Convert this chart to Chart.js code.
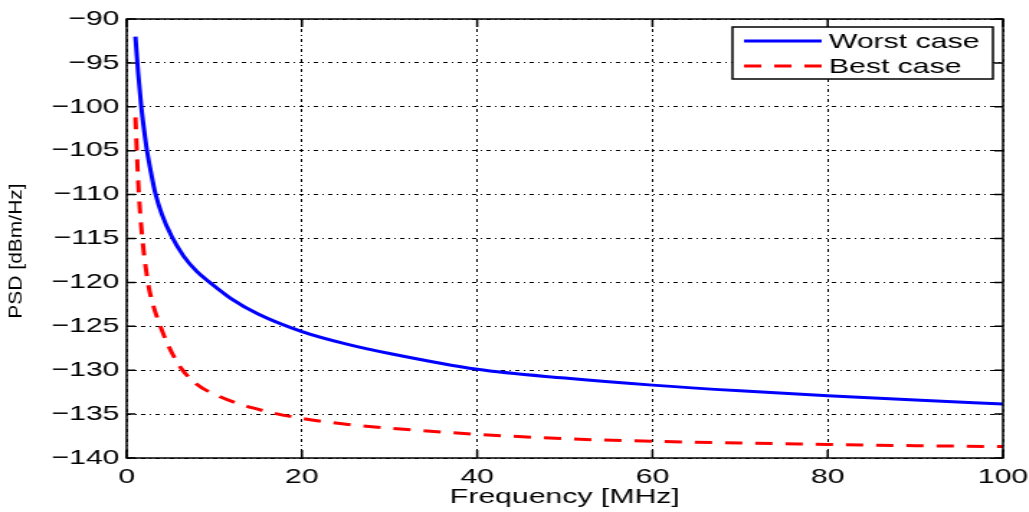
<!DOCTYPE html>
<html>
<head>
<meta charset="utf-8">
<script src="https://cdn.jsdelivr.net/npm/chart.js@4"></script>
<style>
  body { margin: 0; overflow: hidden; background: #fff; }
  #wrap { width: 715px; height: 512px; transform: scaleX(1.439); transform-origin: 0 0; }
</style>
</head>
<body>
<div id="wrap"><canvas id="psdChart" width="715" height="512"></canvas></div>
<script>
// values
const freqWorst = [1, 1.3, 1.67, 2, 2.32, 2.8, 3.31, 4, 5.1, 6.5, 8, 9.5, 12, 15, 20, 25, 30, 40, 50, 60, 70, 80, 90, 100];
const psdWorst = [-92, -96, -100, -102.7, -105, -107.6, -110, -112.2, -114.7, -117, -118.75, -120, -121.9, -123.6, -125.6, -127.0, -128.1, -129.9, -130.9, -131.7, -132.35, -132.9, -133.4, -133.85];

const freqBest = [1, 1.18, 1.4, 1.79, 2.43, 3, 3.85, 5, 6.24, 8, 10.6, 14.4, 20, 25, 30, 40, 50, 60, 70, 80, 90, 100];
const psdBest = [-101.2, -105.5, -110, -115, -120, -122.5, -125, -127.7, -129.8, -131.6, -133, -134.3, -135.5, -136.15, -136.6, -137.3, -137.8, -138.1, -138.3, -138.45, -138.6, -138.7];

const seriesNames = ["Worst case", "Best case"];
const yTitle = "PSD [dBm/Hz]";

function toPoints(xs, ys) {
     return xs.map((x, i) => ({ x: x, y: ys[i] }));
}

const FONT = "'Liberation Sans', Arial, Helvetica, sans-serif";

// box, inward ticks, y title and legend like the matlab figure
const matlabBox = {
     id: 'matlabBox',
     afterDraw(chart) {
          const ctx = chart.ctx;
          const a = chart.chartArea;
          const xs = chart.scales.x, ys = chart.scales.y;
          ctx.save();
          ctx.strokeStyle = '#000';
          ctx.lineWidth = 1.5;
          ctx.setLineDash([]);
          ctx.strokeRect(a.left, a.top, a.right - a.left, a.bottom - a.top);

          ctx.beginPath();
          xs.ticks.forEach(t => {
               const px = xs.getPixelForValue(t.value);
               ctx.moveTo(px, a.bottom); ctx.lineTo(px, a.bottom - 8);
               ctx.moveTo(px, a.top); ctx.lineTo(px, a.top + 8);
          });
          ys.ticks.forEach(t => {
               const py = ys.getPixelForValue(t.value);
               ctx.moveTo(a.left, py); ctx.lineTo(a.left + 6, py);
               ctx.moveTo(a.right, py); ctx.lineTo(a.right - 6, py);
          });
          ctx.stroke();

          // y title, thin like the original
          ctx.save();
          ctx.translate(11.5, 251);
          ctx.rotate(-Math.PI / 2);
          ctx.scale(1, 0.6);
          ctx.font = '21px ' + FONT;
          ctx.fillStyle = '#000';
          ctx.textAlign = 'center';
          ctx.textBaseline = 'middle';
          ctx.fillText(yTitle, 0, 0);
          ctx.restore();

          // legend
          const bx = 509, by = 27, bw = 181, bh = 52;
          ctx.fillStyle = '#fff';
          ctx.fillRect(bx, by, bw, bh);
          ctx.lineWidth = 1.5;
          ctx.strokeRect(bx, by, bw, bh);
          ctx.font = '21px ' + FONT;
          ctx.textBaseline = 'middle';
          chart.data.datasets.forEach((ds, i) => {
               const y = by + 14 + i * 25;
               ctx.strokeStyle = ds.borderColor;
               ctx.lineWidth = ds.borderWidth;
               ctx.setLineDash(ds.borderDash || []);
               ctx.beginPath();
               ctx.moveTo(517, y); ctx.lineTo(571, y);
               ctx.stroke();
               ctx.fillStyle = '#000';
               ctx.fillText(ds.label, 576, y + 1);
          });
          ctx.restore();
     }
};

const ctx = document.getElementById('psdChart').getContext('2d');
window.psdChart = new Chart(ctx, {
     type: 'line',
     data: {
          datasets: [{
               label: seriesNames[0],
               data: toPoints(freqWorst, psdWorst),
               borderColor: '#0000ff',
               borderWidth: 3,
               pointRadius: 0,
               cubicInterpolationMode: 'monotone',
               fill: false
          }, {
               label: seriesNames[1],
               data: toPoints(freqBest, psdBest),
               borderColor: '#ff0000',
               borderWidth: 3,
               borderDash: [12, 9],
               pointRadius: 0,
               cubicInterpolationMode: 'monotone',
               fill: false
          }]
     },
     options: {
          responsive: false,
          animation: false,
          layout: { padding: { top: 19, right: 18, left: 0, bottom: 0 } },
          plugins: {
               legend: { display: false },
               tooltip: { enabled: false }
          },
          scales: {
               x: {
                    type: 'linear',
                    min: 0,
                    max: 100,
                    ticks: { stepSize: 20, color: '#000', padding: 7, maxRotation: 0, font: { family: FONT, size: 21 } },
                    grid: { color: '#000', lineWidth: 1, drawTicks: false },
                    border: { display: false, dash: [3, 3, 1, 3] },
                    title: { display: true, text: 'Frequency [MHz]', color: '#000', padding: { top: 0, bottom: 2 }, font: { family: FONT, size: 21 } },
                    afterFit: function (scale) {
                         scale.height = 54;
                         scale.paddingLeft = 0;
                         scale.paddingRight = 0;
                    }
               },
               y: {
                    min: -140,
                    max: -90,
                    ticks: {
                         stepSize: 5,
                         color: '#000',
                         padding: 5,
                         font: { family: FONT, size: 21 },
                         callback: function (v) { return String(v).replace('-', '\u2212'); }
                    },
                    grid: { color: '#000', lineWidth: 1, drawTicks: false },
                    border: { display: false, dash: [3, 3, 1, 3] },
                    title: { display: false },
                    afterFit: function (scale) {
                         scale.width = 88;
                         scale.paddingTop = 0;
                         scale.paddingBottom = 0;
                    }
               }
          }
     },
     plugins: [matlabBox]
});
</script>
</body>
</html>
